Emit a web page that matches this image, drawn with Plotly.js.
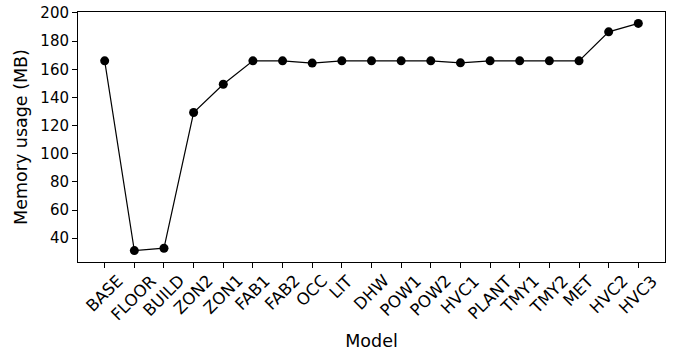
<!DOCTYPE html>
<html>
<head>
<meta charset="utf-8">
<script src="https://cdn.plot.ly/plotly-3.0.1.min.js"></script>
<style>html,body{margin:0;padding:0;background:#fff;}#chart{width:673px;height:351px;}</style>
</head>
<body>
<div id="chart"></div>
<script>
const models = ["BASE","FLOOR","BUILD","ZON2","ZON1","FAB1","FAB2","OCC","LIT","DHW","POW1","POW2","HVC1","PLANT","TMY1","TMY2","MET","HVC2","HVC3"];
const memoryMB = [166, 31.2, 32.9, 129.3, 149.4, 166, 166, 164.4, 166, 166, 166, 166, 164.6, 166, 166, 166, 166, 186.6, 192.6];
const yTicks = [40, 60, 80, 100, 120, 140, 160, 180, 200];

const xIdx = models.map((_, i) => i);
const font = "DejaVu Sans, sans-serif";

// Category labels centred under their ticks (rotated 45°), positioned by the x scale
const labelAnnotations = models.map((m, i) => ({
  x: i, xref: "x",
  y: 0, yref: "paper",
  text: m,
  showarrow: false,
  textangle: -45,
  xanchor: "center", yanchor: "top",
  yshift: -8,
  borderpad: 0,
  font: {family: font, size: 16.5, color: "#000"}
}));

Plotly.newPlot("chart", [{
  x: xIdx,
  y: memoryMB,
  type: "scatter",
  mode: "lines+markers",
  line: {color: "#000", width: 1.2},
  marker: {color: "#000", size: 9},
  showlegend: false,
  hoverinfo: "none"
}], {
  width: 673, height: 351,
  margin: {l: 78, r: 8, t: 12, b: 89},
  paper_bgcolor: "#fff", plot_bgcolor: "#fff",
  font: {family: font, color: "#000", size: 15},
  annotations: labelAnnotations,
  xaxis: {
    range: [-0.9, 18.9],
    tickmode: "array", tickvals: xIdx,
    showticklabels: false,
    ticks: "outside", ticklen: 5, tickwidth: 1, tickcolor: "#000",
    showline: true, linecolor: "#000", linewidth: 1, mirror: true,
    showgrid: false, zeroline: false,
    title: {text: "Model", font: {family: font, size: 17.5, color: "#000"}, standoff: 68}
  },
  yaxis: {
    range: [23.1, 200.7],
    tickmode: "array", tickvals: yTicks,
    ticks: "outside", ticklen: 5, tickwidth: 1, tickcolor: "#000",
    showline: true, linecolor: "#000", linewidth: 1, mirror: true,
    showgrid: false, zeroline: false,
    tickfont: {family: font, size: 15, color: "#000"},
    title: {text: "Memory usage (MB)", font: {family: font, size: 17.5, color: "#000"}, standoff: 8}
  }
}, {staticPlot: true, displayModeBar: false});
</script>
</body>
</html>
